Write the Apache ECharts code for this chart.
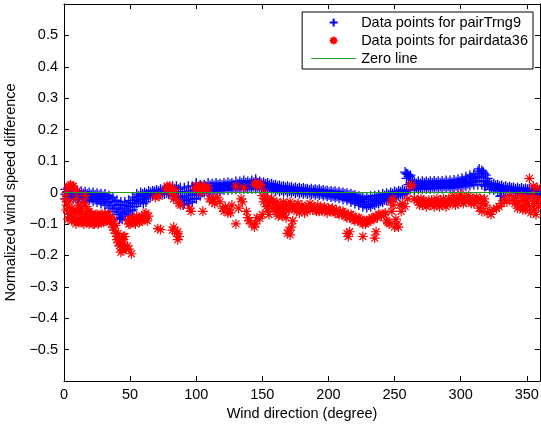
<!DOCTYPE html>
<html>
<head>
<meta charset="utf-8">
<script src="https://cdn.jsdelivr.net/npm/echarts@6/dist/echarts.min.js"></script>
<style>html,body{margin:0;padding:0;background:#fff}#c{width:541px;height:425px}</style>
</head>
<body>
<div id="c"></div>
<script>
// ---- data ----
const xTicks = [0, 50, 100, 150, 200, 250, 300, 350];
const yTicks = [-0.5, -0.4, -0.3, -0.2, -0.1, 0, 0.1, 0.2, 0.3, 0.4, 0.5];

// pairTrng9 (blue +): band sampled every 3 degrees, upper/middle/lower rows
const blueX = [1,4,7,10,13,16,19,22,25,28,31,34,37,40,43,46,49,52,55,58,61,64,67,70,73,76,79,82,85,88,91,94,97,100,103,106,109,112,115,118,121,124,127,130,133,136,139,142,145,148,151,154,157,160,163,166,169,172,175,178,181,184,187,190,193,196,199,202,205,208,211,214,217,220,223,226,229,232,235,238,241,244,247,250,253,256,259,262,265,268,271,274,277,280,283,286,289,292,295,298,301,304,307,310,313,316,319,322,325,328,331,334,337,340,343,346,349,352,355,358];
const blueHi = [0.01,0.008,0.006,0.005,0.004,0.002,0.0,0.0,-0.002,-0.004,-0.005,-0.01,-0.015,-0.025,-0.03,-0.03,-0.025,-0.015,-0.005,0.0,0.0,0.005,0.005,0.008,0.01,0.012,0.015,0.02,0.02,0.015,0.015,0.02,0.02,0.025,0.025,0.025,0.03,0.028,0.03,0.028,0.03,0.032,0.03,0.035,0.035,0.038,0.035,0.038,0.035,0.035,0.032,0.03,0.028,0.025,0.022,0.02,0.02,0.018,0.016,0.015,0.014,0.012,0.012,0.01,0.01,0.008,0.006,0.005,0.004,0.002,0.0,-0.002,-0.004,-0.008,-0.012,-0.015,-0.015,-0.012,-0.01,-0.008,-0.005,-0.002,0.0,0.003,0.005,0.008,0.06,0.055,0.035,0.035,0.036,0.035,0.036,0.037,0.036,0.037,0.038,0.038,0.04,0.042,0.045,0.05,0.055,0.06,0.068,0.07,0.055,0.03,0.028,0.025,0.022,0.02,0.018,0.016,0.015,0.014,0.013,0.012,0.012,0.012];
const blueMid = [-0.005,-0.005,-0.008,-0.01,-0.008,-0.012,-0.012,-0.015,-0.016,-0.02,-0.022,-0.03,-0.04,-0.05,-0.055,-0.05,-0.045,-0.035,-0.02,-0.01,-0.01,-0.005,0.0,0.0,0.002,0.003,0.005,0.005,0.0,-0.01,-0.015,-0.01,-0.005,0.005,0.01,0.012,0.015,0.015,0.018,0.017,0.02,0.02,0.02,0.022,0.025,0.025,0.025,0.026,0.025,0.024,0.022,0.02,0.018,0.015,0.013,0.012,0.01,0.008,0.007,0.006,0.005,0.004,0.003,0.002,0.0,-0.002,-0.004,-0.005,-0.007,-0.008,-0.01,-0.013,-0.016,-0.02,-0.025,-0.03,-0.03,-0.028,-0.025,-0.02,-0.016,-0.012,-0.008,-0.005,-0.002,0.0,0.045,0.03,0.02,0.022,0.024,0.024,0.025,0.025,0.025,0.026,0.026,0.026,0.028,0.03,0.032,0.035,0.04,0.045,0.05,0.05,0.035,0.02,0.018,0.015,0.012,0.01,0.01,0.008,0.008,0.007,0.006,0.005,0.005,0.004];
const blueLo = [-0.02,-0.018,-0.02,-0.02,-0.022,-0.03,-0.025,-0.028,-0.03,-0.035,-0.04,-0.05,-0.06,-0.07,-0.08,-0.075,-0.07,-0.055,-0.035,-0.03,-0.02,-0.015,-0.01,-0.008,-0.005,-0.005,-0.005,-0.01,-0.02,-0.03,-0.035,-0.035,-0.03,-0.02,-0.01,0.0,0.0,0.002,0.005,0.005,0.008,0.008,0.01,0.01,0.012,0.012,0.012,0.012,0.012,0.01,0.01,0.008,0.006,0.004,0.003,0.002,0.0,0.0,-0.002,-0.003,-0.004,-0.005,-0.006,-0.007,-0.008,-0.01,-0.012,-0.014,-0.016,-0.018,-0.022,-0.025,-0.03,-0.035,-0.04,-0.045,-0.048,-0.045,-0.04,-0.035,-0.03,-0.025,-0.02,-0.015,-0.01,-0.008,0.005,0.01,0.008,0.01,0.012,0.012,0.012,0.013,0.013,0.013,0.014,0.014,0.015,0.016,0.018,0.02,0.022,0.025,0.025,0.025,0.02,0.01,0.008,0.005,-0.01,0.003,0.002,0.0,0.0,-0.002,-0.003,-0.004,-0.004,-0.005];
// second set of blue rows, offset by 1.5 degrees
const blueX2 = [2.5,5.5,8.5,11.5,14.5,17.5,20.5,23.5,26.5,29.5,32.5,35.5,38.5,41.5,44.5,47.5,50.5,53.5,56.5,59.5,62.5,65.5,68.5,71.5,74.5,77.5,80.5,83.5,86.5,89.5,92.5,95.5,98.5,101.5,104.5,107.5,110.5,113.5,116.5,119.5,122.5,125.5,128.5,131.5,134.5,137.5,140.5,143.5,146.5,149.5,152.5,155.5,158.5,161.5,164.5,167.5,170.5,173.5,176.5,179.5,182.5,185.5,188.5,191.5,194.5,197.5,200.5,203.5,206.5,209.5,212.5,215.5,218.5,221.5,224.5,227.5,230.5,233.5,236.5,239.5,242.5,245.5,248.5,251.5,254.5,257.5,260.5,263.5,266.5,269.5,272.5,275.5,278.5,281.5,284.5,287.5,290.5,293.5,296.5,299.5,302.5,305.5,308.5,311.5,314.5,317.5,320.5,323.5,326.5,329.5,332.5,335.5,338.5,341.5,344.5,347.5,350.5,353.5,356.5,359.5];
const blueQ1 = [0.003,0.001,-0.001,-0.002,-0.003,-0.005,-0.006,-0.008,-0.009,-0.012,-0.015,-0.02,-0.03,-0.038,-0.042,-0.04,-0.033,-0.025,-0.012,-0.005,-0.004,0.0,0.003,0.004,0.006,0.008,0.01,0.012,0.01,0.003,0.0,0.005,0.008,0.015,0.018,0.019,0.022,0.022,0.024,0.023,0.025,0.026,0.025,0.028,0.03,0.031,0.03,0.032,0.03,0.029,0.027,0.025,0.023,0.02,0.018,0.016,0.015,0.013,0.012,0.011,0.01,0.008,0.007,0.006,0.005,0.003,0.001,0.0,-0.002,-0.003,-0.005,-0.008,-0.01,-0.014,-0.018,-0.022,-0.022,-0.02,-0.018,-0.014,-0.01,-0.007,-0.004,-0.001,0.002,0.004,0.052,0.04,0.028,0.029,0.03,0.03,0.03,0.031,0.03,0.031,0.032,0.032,0.034,0.036,0.038,0.042,0.048,0.052,0.059,0.06,0.045,0.025,0.023,0.02,0.017,0.015,0.014,0.012,0.011,0.01,0.01,0.008,0.008,0.008];
const blueQ3 = [-0.013,-0.012,-0.015,-0.016,-0.017,-0.02,-0.019,-0.022,-0.024,-0.028,-0.033,-0.042,-0.052,-0.062,-0.068,-0.062,-0.058,-0.045,-0.028,-0.02,-0.015,-0.01,-0.005,-0.004,-0.002,-0.001,0.0,-0.003,-0.012,-0.02,-0.025,-0.022,-0.018,-0.008,0.0,0.006,0.008,0.008,0.011,0.011,0.014,0.014,0.015,0.016,0.018,0.018,0.018,0.019,0.018,0.017,0.016,0.014,0.012,0.01,0.008,0.007,0.005,0.004,0.002,0.001,0.0,-0.001,-0.002,-0.003,-0.004,-0.006,-0.008,-0.01,-0.012,-0.013,-0.016,-0.019,-0.023,-0.028,-0.033,-0.038,-0.04,-0.037,-0.033,-0.028,-0.023,-0.019,-0.014,-0.01,-0.006,-0.004,0.025,0.02,0.014,0.016,0.018,0.018,0.018,0.019,0.019,0.02,0.02,0.02,0.022,0.023,0.025,0.028,0.031,0.035,0.038,0.038,0.028,0.015,0.013,0.01,0.006,0.006,0.006,0.004,0.004,0.002,0.002,0.0,0.0,-0.001];
const blueExtra = [[42,-0.085],[44,-0.085],[60,-0.035],[62,-0.03],[90,-0.04],[258,0.065],[260,0.058],[261,0.05],[100,0.03],[314,0.075],[317,0.065],[318,0.02],[330,-0.012],[145,0.042]];

// pairdata36 (red *)
const redPoints = [
[1,-0.02],[2,-0.04],[2,0.0],[3,-0.06],[3,0.015],[4,-0.03],[4,0.02],[5,0.025],[5,-0.07],[6,0.02],[6,-0.05],[7,0.02],[7,-0.08],[8,0.01],[8,-0.09],[9,-0.06],[9,-0.02],[10,-0.085],[10,0.005],[11,-0.04],[11,-0.095],[12,-0.07],
[13,-0.09],[13,-0.05],[14,-0.08],[15,-0.1],[15,-0.03],[16,-0.07],[16,-0.01],[17,-0.09],[17,-0.045],[18,-0.08],[19,-0.1],[19,-0.06],[20,-0.085],[21,-0.095],[21,-0.07],[22,-0.08],[23,-0.1],[24,-0.09],[24,-0.07],[25,-0.085],[26,-0.1],[27,-0.08],[28,-0.095],[28,-0.07],[29,-0.085],[30,-0.08],[31,-0.09],[31,-0.07],[32,-0.075],[33,-0.085],[34,-0.07],[35,-0.08],[35,-0.09],
[2,-0.055],[3,-0.085],[4,-0.07],[6,-0.09],[7,-0.06],[8,-0.07],[9,-0.1],[10,-0.06],[12,-0.09],[12,-0.05],[14,-0.065],[14,-0.095],[16,-0.09],[18,-0.06],[18,-0.095],[20,-0.07],[22,-0.1],[23,-0.075],[25,-0.07],[26,-0.08],[27,-0.095],[29,-0.07],[30,-0.095],[32,-0.09],[33,-0.07],[34,-0.085],[36,-0.085],[38,-0.1],
[36,-0.1],[37,-0.11],[37,-0.09],[38,-0.12],[39,-0.13],[39,-0.105],[40,-0.15],[40,-0.14],[41,-0.16],[42,-0.145],[42,-0.17],[43,-0.19],[44,-0.185],[44,-0.15],[45,-0.14],[46,-0.14],[47,-0.18],[48,-0.17],[49,-0.18],[51,-0.195],
[41,-0.13],[43,-0.16],[45,-0.16],[46,-0.175],
[48,-0.09],[50,-0.1],[51,-0.085],[52,-0.09],[53,-0.08],[54,-0.1],[55,-0.09],[56,-0.085],[57,-0.08],[58,-0.09],[59,-0.075],[60,-0.08],[61,-0.07],[62,-0.065],[63,-0.09],[64,-0.075],
[49,-0.1],[50,-0.085],[53,-0.095],[55,-0.075],[57,-0.095],[59,-0.09],[61,-0.085],
[69,-0.015],[72,-0.012],[71,-0.115],[73,-0.118],
[77,0.01],[78,0.02],[79,0.015],[80,0.02],[81,0.01],[82,0.005],[80,0.0],[83,-0.005],[84,0.01],[83,-0.02],[85,-0.02],
[87,-0.035],[88,-0.04],[82,-0.12],[83,-0.11],[85,-0.13],[86,-0.15],[87,-0.14],[86,-0.125],
[95,-0.05],[96,-0.06],[99,0.01],[100,0.02],[101,0.015],[102,0.02],[103,0.01],[104,0.02],[105,0.015],[106,0.01],[107,0.02],[108,0.005],[109,0.015],[103,0.0],[105,-0.06],
[110,-0.02],[112,-0.03],[113,-0.02],[114,-0.035],[116,-0.015],[118,-0.03],
[120,-0.05],[121,-0.06],[122,-0.045],[124,-0.065],[125,-0.055],[126,-0.065],[127,-0.04],
[130,-0.1],[130,0.02],[132,-0.05],[134,-0.02],[135,-0.03],[136,0.015],[138,-0.06],[139,-0.08],[140,-0.09],[142,-0.1],[144,-0.11],[145,-0.1],
[144,0.025],[145,0.03],[146,0.025],[147,0.03],[148,0.02],[149,0.025],[146,-0.08],[148,-0.083],[150,-0.07],
[150,-0.01],[151,-0.03],[152,-0.02],[153,-0.045],[154,-0.06],[155,-0.04],[156,-0.03],[152,0.0],
[157,-0.02],[158,-0.05],[159,-0.035],[160,-0.06],[161,-0.03],[162,-0.05],[164,-0.04],[165,-0.06],[166,-0.03],[167,-0.05],[168,-0.04],[170,-0.055],[171,-0.03],[173,-0.05],[174,-0.04],[176,-0.06],[177,-0.035],[179,-0.05],[180,-0.04],
[155,-0.07],[158,-0.03],[161,-0.06],[164,-0.05],[167,-0.065],[170,-0.04],[154,-0.02],[162,-0.075],
[163,-0.07],[165,-0.075],[168,-0.08],[169,-0.13],[170,-0.12],[171,-0.135],[172,-0.11],[173,-0.09],
[182,-0.065],[183,-0.045],[185,-0.05],[186,-0.035],[188,-0.055],[189,-0.045],[191,-0.06],[192,-0.04],[194,-0.05],[195,-0.06],[197,-0.045],[198,-0.055],[200,-0.05],[201,-0.06],
[175,-0.05],[178,-0.065],[181,-0.05],[184,-0.06],[187,-0.045],[190,-0.055],[193,-0.06],[196,-0.05],[199,-0.065],[202,-0.055],[205,-0.065],[208,-0.07],[211,-0.06],[214,-0.08],[217,-0.07],[220,-0.09],[223,-0.08],[226,-0.1],[229,-0.095],[232,-0.09],[235,-0.08],[238,-0.07],
[203,-0.05],[204,-0.06],[206,-0.055],[207,-0.065],[209,-0.06],[210,-0.07],[212,-0.065],[213,-0.075],[215,-0.07],[216,-0.08],[218,-0.075],[219,-0.085],[221,-0.08],[222,-0.09],[224,-0.085],[225,-0.095],[227,-0.09],[228,-0.1],[230,-0.09],[231,-0.085],[233,-0.08],[234,-0.085],[236,-0.075],[237,-0.08],[239,-0.07],[240,-0.075],
[214,-0.13],[215,-0.14],[216,-0.125],[226,-0.14],[235,-0.145],[236,-0.125],
[242,-0.07],[243,-0.065],[244,-0.09],[245,-0.095],[246,-0.1],[247,-0.03],[248,-0.06],[249,-0.04],[250,-0.11],[251,-0.085],[252,-0.1],[253,-0.11],[249,-0.02],
[254,-0.04],[255,-0.06],[256,-0.035],[258,-0.045],[260,-0.02],[262,0.02],[263,0.025],[265,-0.02],[267,-0.025],
[268,-0.03],[270,-0.02],[271,-0.04],[273,-0.03],[274,-0.045],[276,-0.025],[277,-0.04],[279,-0.03],[280,-0.045],[282,-0.02],[283,-0.035],[285,-0.025],[286,-0.04],[288,-0.03],[289,-0.045],[291,-0.02],[292,-0.035],[294,-0.01],[295,-0.03],[297,-0.02],[298,-0.035],[300,-0.005],[301,-0.025],[303,-0.015],[304,-0.03],[306,-0.01],[307,-0.025],[309,-0.02],[310,-0.035],[312,-0.015],[313,-0.03],[314,-0.05],[316,-0.06],[318,-0.02],[319,-0.04],[320,-0.065],[322,-0.06],[323,-0.07],[325,-0.055],[327,-0.05],[329,-0.045],[331,-0.035],[333,-0.02],[335,-0.03],[337,-0.01],[339,-0.025],[341,-0.035],[342,-0.015],[344,-0.03],[345,-0.045],[346,-0.01],[347,-0.025],[348,-0.04],[349,-0.055],[350,-0.02],[351,-0.035],[352,0.045],[353,-0.065],[354,-0.01],[355,0.02],[356,-0.055],[357,-0.07],[358,0.015],[358,-0.03],[359,-0.045],
[269,-0.04],[272,-0.025],[275,-0.035],[278,-0.025],[281,-0.035],[284,-0.045],[287,-0.02],[290,-0.035],[293,-0.025],[296,-0.04],[299,-0.015],[302,-0.035],[305,-0.02],[308,-0.035],[311,-0.025],[315,-0.02],[317,-0.035],[343,-0.05],[347,-0.055],[349,-0.02],[352,-0.045],[355,-0.035],[356,-0.02],[359,-0.02]
];

const zeroX = [0, 360];
const zeroY = [0, 0];

const seriesNames = ['Data points for pairTrng9', 'Data points for pairdata36', 'Zero line'];

// ---- chart ----
const blueData = blueX.map((x, i) => [x, blueHi[i]])
  .concat(blueX.map((x, i) => [x, blueMid[i]]))
  .concat(blueX.map((x, i) => [x, blueLo[i]]))
  .concat(blueX2.map((x, i) => [x, blueQ1[i]]))
  .concat(blueX2.map((x, i) => [x, blueQ3[i]]))
  .concat(blueExtra);
const zeroData = zeroX.map((x, i) => [x, zeroY[i]]);

const PLUS = 'path://M5,0L5,10M0,5L10,5';
const STAR = 'path://M5,0L5,10M0,5L10,5M1.5,1.5L8.5,8.5M1.5,8.5L8.5,1.5';
const LINEICON = 'path://M0,0L45,0L45,1.2L0,1.2Z';
const FONT = 'Liberation Sans';
const FS = 14.5;
const GREEN = '#22a022';

function fmtY(v) {
  const r = Math.round(v * 10) / 10;
  if (!yTicks.some(t => Math.abs(t - r) < 1e-9)) return '';
  if (r === 0) return '0';
  return (r < 0 ? '\u2212' : '') + Math.abs(r).toFixed(1);
}
function fmtX(v) {
  return xTicks.indexOf(Math.round(v)) >= 0 ? String(Math.round(v)) : '';
}

const axLine = { show: true, onZero: false, lineStyle: { color: '#000', width: 1 } };
const axTick = { show: true, inside: true, length: 5, lineStyle: { color: '#000', width: 1 } };
const chart = echarts.init(document.getElementById('c'), null, { renderer: 'canvas' });
chart.setOption({
  animation: false,
  backgroundColor: '#fff',
  textStyle: { fontFamily: FONT },
  grid: { left: 64, right: 1, top: 4, bottom: 44, containLabel: false, outerBoundsMode: 'none' },
  xAxis: [{
    type: 'value', min: 0, max: 360, interval: 50, position: 'bottom',
    name: 'Wind direction (degree)', nameLocation: 'middle', nameGap: 21,
    nameTextStyle: { color: '#000', fontSize: FS, fontFamily: FONT },
    axisLine: axLine, axisTick: axTick,
    axisLabel: { color: '#000', fontSize: FS, fontFamily: FONT, margin: 6, formatter: fmtX },
    splitLine: { show: false }
  }, {
    type: 'value', min: 0, max: 360, interval: 50, position: 'top',
    axisLine: axLine, axisTick: axTick,
    axisLabel: { show: false }, splitLine: { show: false }
  }],
  yAxis: [{
    type: 'value', min: -0.6, max: 0.6, interval: 0.1, position: 'left',
    name: 'Normalized wind speed difference', nameLocation: 'middle', nameGap: 41,
    nameTextStyle: { color: '#000', fontSize: FS, fontFamily: FONT },
    axisLine: axLine, axisTick: axTick,
    axisLabel: { color: '#000', fontSize: FS, fontFamily: FONT, margin: 6, formatter: fmtY },
    splitLine: { show: false }
  }, {
    type: 'value', min: -0.6, max: 0.6, interval: 0.1, position: 'right',
    axisLine: axLine, axisTick: axTick,
    axisLabel: { show: false }, splitLine: { show: false }
  }],
  legend: {
    orient: 'vertical', right: 8, top: 12,
    backgroundColor: '#fff', borderColor: '#000', borderWidth: 1, borderRadius: 0,
    padding: [3, 5, 3, 9],
    itemWidth: 45, itemHeight: 8, itemGap: 3,
    textStyle: { color: '#000', fontSize: FS, fontFamily: FONT, lineHeight: 15 },
    data: [
      { name: seriesNames[0] },
      { name: seriesNames[1] },
      { name: seriesNames[2], icon: LINEICON, itemStyle: { color: GREEN } }
    ]
  },
  series: [{
    name: seriesNames[0], type: 'scatter', xAxisIndex: 0, yAxisIndex: 0,
    symbol: PLUS, symbolSize: 10, symbolKeepAspect: true,
    itemStyle: { color: 'rgba(0,0,0,0)', borderColor: '#0000ff', borderWidth: 1.3, opacity: 1 },
    data: blueData, z: 2
  }, {
    name: seriesNames[1], type: 'scatter', xAxisIndex: 0, yAxisIndex: 0,
    symbol: STAR, symbolSize: 10, symbolKeepAspect: true,
    itemStyle: { color: 'rgba(0,0,0,0)', borderColor: '#ff0000', borderWidth: 1.2, opacity: 1 },
    data: redPoints, z: 3
  }, {
    name: seriesNames[2], type: 'line', xAxisIndex: 0, yAxisIndex: 0,
    showSymbol: false, symbol: 'none', symbolKeepAspect: true,
    lineStyle: { color: GREEN, width: 1 }, itemStyle: { color: GREEN },
    data: zeroData, z: 4
  }]
});
</script>
</body>
</html>
